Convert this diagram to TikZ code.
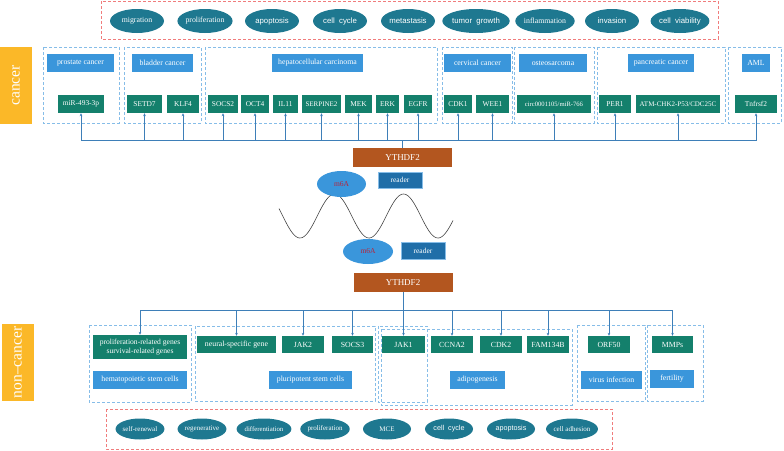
\documentclass[tikz,border=0pt]{standalone}
\usepackage{fontspec}
\setmainfont{Liberation Serif}
\newfontfamily\arialf{Liberation Sans}
\usetikzlibrary{shapes.geometric,arrows.meta}
\definecolor{ellc}{HTML}{1E7890}
\definecolor{hdrc}{HTML}{3A96DB}
\definecolor{genec}{HTML}{14806C}
\definecolor{grpc}{HTML}{86BDE8}
\definecolor{redc}{HTML}{F07C7C}
\definecolor{arrc}{HTML}{3E7FB8}
\definecolor{brownc}{HTML}{B3561F}
\definecolor{goldc}{HTML}{FBB828}
\definecolor{readc}{HTML}{206EA8}
\definecolor{m6ac}{HTML}{3A96DB}
\definecolor{m6at}{HTML}{B8233A}
\tikzset{
  ell/.style={ellipse, fill=ellc, text=white, minimum width=54pt, minimum height=24pt, inner sep=0pt, font=\fontsize{7.8}{9}\selectfont},
  aell/.style={ell, font=\arialf\fontsize{7.8}{9}\selectfont},
  sell/.style={ell, minimum width=48pt, minimum height=21pt, font=\fontsize{7}{8}\selectfont},
  asell/.style={sell, font=\arialf\fontsize{7.2}{8}\selectfont},
  hdr/.style={rectangle, fill=hdrc, text=white, minimum height=18pt, inner sep=0pt, font=\fontsize{7.8}{9}\selectfont},
  gene/.style={rectangle, fill=genec, text=white, minimum height=18pt, inner sep=0pt, font=\fontsize{7.4}{8.5}\selectfont},
  grp/.style={draw=grpc, dash pattern=on 3pt off 2pt, line width=0.8pt},
  redbox/.style={draw=redc, dash pattern=on 3pt off 2pt, line width=0.8pt},
  arr/.style={draw=arrc, line width=0.6pt, -{Stealth[length=3pt,width=2.6pt]}},
  bus/.style={draw=arrc, line width=0.6pt},
  tag/.style={rectangle, fill=goldc, text=white, rotate=90, minimum width=77pt, minimum height=32pt, inner sep=0pt, font=\fontsize{15.5}{17}\selectfont},
  ythd/.style={rectangle, fill=brownc, text=white, minimum width=99pt, minimum height=19pt, inner sep=0pt, font=\fontsize{9}{10}\selectfont},
  readerbox/.style={rectangle, fill=readc, draw=grpc, line width=0.4pt, text=white, minimum width=44pt, minimum height=16pt, inner sep=0pt, font=\fontsize{7.5}{8.5}\selectfont},
  m6a/.style={ellipse, fill=m6ac, text=m6at, minimum width=49pt, minimum height=26pt, inner sep=0pt, font=\fontsize{7.5}{8.5}\selectfont},
}
\begin{document}
\begin{tikzpicture}[x=1pt,y=-1pt]
\useasboundingbox (0,0) rectangle (784,450);
% top red box with ellipses
\draw[redbox] (101,1) rectangle (718,39);
\node[ell] (t1) at (137,21) {migration};
\node[ell] (t2) at (205,21) {proliferation};
\node[aell] (t3) at (272,21) {apoptosis};
\node[aell] (t4) at (340,21) {cell\ \ cycle};
\node[aell] (t5) at (408,21) {metastasis};
\node[aell] (t6) at (476,21) {tumor\ \ growth};
\node[ell] (t7) at (545,21) {inflammation};
\node[aell] (t8) at (612,21) {invasion};
\node[aell] (t9) at (680,21) {cell\ \ viability};
% cancer tag
\node[tag] (cancer) at (16,85.5) {cancer};
% cancer groups
\draw[grp] (43,47) rectangle (119,123);
\draw[grp] (124,47) rectangle (201,123);
\draw[grp] (205,47) rectangle (437,123);
\draw[grp] (442,47) rectangle (512,123);
\draw[grp] (514,47) rectangle (594,123);
\draw[grp] (597,47) rectangle (725,123);
\draw[grp] (728,47) rectangle (781,123);
% headers
\node[hdr, minimum width=67pt] (h1) at (80.5,63) {prostate cancer};
\node[hdr, minimum width=61pt] (h2) at (162.5,63) {bladder cancer};
\node[hdr, minimum width=91pt] (h3) at (317.5,63) {hepatocellular carcinoma};
\node[hdr, minimum width=67pt] (h4) at (477.5,63) {cervical cancer};
\node[hdr, minimum width=68pt] (h5) at (553,63) {osteosarcoma};
\node[hdr, minimum width=66pt] (h6) at (661,63) {pancreatic cancer};
\node[hdr, minimum width=28pt] (h7) at (756,63) {AML};
% genes
\node[gene, minimum width=46pt] (g1) at (81,104) {miR-493-3p};
\node[gene, minimum width=35pt] (g2) at (144.5,104) {SETD7};
\node[gene, minimum width=32pt] (g3) at (183,104) {KLF4};
\node[gene, minimum width=30pt] (g4) at (223,104) {SOCS2};
\node[gene, minimum width=28pt] (g5) at (255,104) {OCT4};
\node[gene, minimum width=25pt] (g6) at (285.5,104) {IL11};
\node[gene, minimum width=39pt, font=\fontsize{7}{8}\selectfont] (g7) at (321.5,104) {SERPINE2};
\node[gene, minimum width=27pt] (g8) at (358.5,104) {MEK};
\node[gene, minimum width=23pt] (g9) at (387.5,104) {ERK};
\node[gene, minimum width=28pt] (g10) at (418,104) {EGFR};
\node[gene, minimum width=28pt] (g11) at (458,104) {CDK1};
\node[gene, minimum width=33pt] (g12) at (492.5,104) {WEE1};
\node[gene, minimum width=74pt, font=\fontsize{6.6}{7.5}\selectfont] (g13) at (554,104) {circ0001105/miR-766};
\node[gene, minimum width=32pt] (g14) at (615,104) {PER1};
\node[gene, minimum width=84pt, font=\fontsize{7}{8}\selectfont] (g15) at (678,104) {ATM-CHK2-P53/CDC25C};
\node[gene, minimum width=42pt] (g16) at (756,104) {Tnfrsf2};
% top YTHDF2 and bus
\node[ythd] (y1) at (402.5,157.5) {YTHDF2};
\coordinate (busT) at (402.5,140);
\draw[bus] (y1.north) -- (busT);
\foreach \g in {g1,g2,g3,g4,g5,g6,g7,g8,g9,g10,g11,g12,g13,g14,g15,g16}
  \draw[arr] (busT) -| (\g.south);
% middle: m6A, reader, wave
\draw[black!75, line width=0.6pt] plot[domain=279:453, samples=120, smooth] (\x, {216+22*cos((\x-300)/69*360)});
\node[readerbox] (r1) at (400,180) {reader};
\node[m6a] (m1) at (341.5,184) {m6A};
\node[m6a, minimum width=50pt, minimum height=25pt] (m2) at (368,251.5) {m6A};
\node[readerbox, minimum height=17pt] (r2) at (423,250.5) {reader};
% bottom YTHDF2 and bus
\node[ythd] (y2) at (403,282.5) {YTHDF2};
\coordinate (busB) at (403,310);
\draw[bus] (y2.south) -- (busB);
% non-cancer tag
\node[tag] (noncancer) at (18,362.5) {non--cancer};
% bottom groups
\draw[grp] (89,325) rectangle (191,402);
\draw[grp] (195,326) rectangle (375,401);
\draw[grp] (378,326) rectangle (427,402);
\draw[grp] (381,329) rectangle (572,405);
\draw[grp] (577,325) rectangle (645,401);
\draw[grp] (647,325) rectangle (703,401);
% bottom genes
\node[gene, minimum width=94pt, minimum height=24pt, align=center, font=\fontsize{7.6}{8.4}\selectfont] (b1) at (140,347) {proliferation-related genes\\survival-related genes};
\node[gene, minimum width=79pt, minimum height=17pt, font=\fontsize{7.8}{9}\selectfont] (b2) at (236.5,344.5) {neural-specific gene};
\node[gene, minimum width=42pt, minimum height=17pt, font=\fontsize{7.8}{9}\selectfont] (b3) at (303,344.5) {JAK2};
\node[gene, minimum width=41pt, minimum height=17pt, font=\fontsize{7.8}{9}\selectfont] (b4) at (352.5,344.5) {SOCS3};
\node[gene, minimum width=43pt, minimum height=17pt, font=\fontsize{7.8}{9}\selectfont] (b5) at (403.5,344.5) {JAK1};
\node[gene, minimum width=42pt, minimum height=17pt, font=\fontsize{7.8}{9}\selectfont] (b6) at (452,344.5) {CCNA2};
\node[gene, minimum width=42pt, minimum height=17pt, font=\fontsize{7.8}{9}\selectfont] (b7) at (501,344.5) {CDK2};
\node[gene, minimum width=42pt, minimum height=17pt, font=\fontsize{7.8}{9}\selectfont] (b8) at (548,344.5) {FAM134B};
\node[gene, minimum width=42pt, minimum height=17pt, font=\fontsize{7.8}{9}\selectfont] (b9) at (609,344.5) {ORF50};
\node[gene, minimum width=41pt, minimum height=17pt, font=\fontsize{7.8}{9}\selectfont] (b10) at (672.5,344.5) {MMPs};
% bottom headers
\node[hdr, minimum width=94pt] (c1) at (140,380) {hematopoietic stem cells};
\node[hdr, minimum width=83pt] (c2) at (310.5,380) {pluripotent stem cells};
\node[hdr, minimum width=55pt] (c3) at (477.5,380) {adipogenesis};
\node[hdr, minimum width=61pt] (c4) at (611.5,380) {virus infection};
\node[hdr, minimum width=44pt] (c5) at (672,379) {fertility};
\foreach \g in {b1,b2,b3,b4,b5,b6,b7,b8,b9,b10}
  \draw[arr] (busB) -| (\g.north);
% bottom red box with ellipses
\draw[redbox] (106,409) rectangle (612,449);
\node[sell] (e1) at (140,429) {self-renewal};
\node[sell] (e2) at (202,429) {regenerative};
\node[sell, font=\fontsize{6.8}{8}\selectfont] (e3) at (264,429) {differentiation};
\node[sell] (e4) at (325,429) {proliferation};
\node[sell] (e5) at (387,429) {MCE};
\node[asell] (e6) at (449,429) {cell\ \ cycle};
\node[asell] (e7) at (511,429) {apoptosis};
\node[sell] (e8) at (572,429) {cell adhesion};
\end{tikzpicture}
\end{document}
